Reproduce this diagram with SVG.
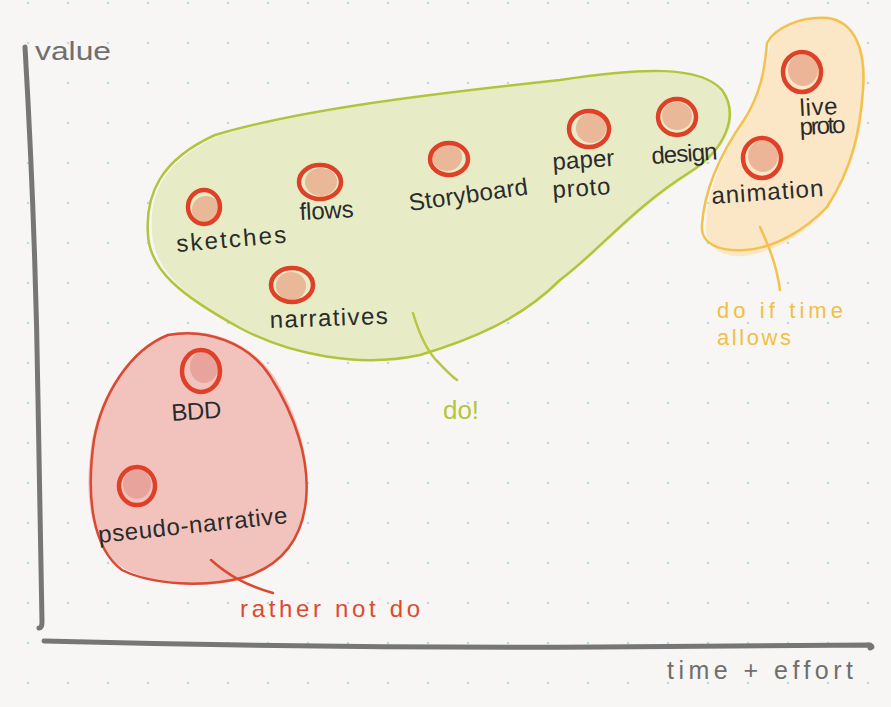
<svg xmlns="http://www.w3.org/2000/svg" width="891" height="707" viewBox="0 0 891 707">
<defs>
<pattern id="dots" x="28" y="3" width="40" height="40" patternUnits="userSpaceOnUse">
<circle cx="0" cy="0" r="1.3" fill="#b9dbe5"/><circle cx="40" cy="0" r="1.3" fill="#b9dbe5"/><circle cx="0" cy="40" r="1.3" fill="#b9dbe5"/><circle cx="40" cy="40" r="1.3" fill="#b9dbe5"/>
</pattern>
<style>
.lbl{font-family:"Liberation Sans","DejaVu Sans",sans-serif;fill:#2b2b2b;font-size:24px}
.ring{fill:none;stroke:#df4128;stroke-width:4.5}
.fg{fill:#e8b898}
.fo{fill:#edb598}
.fr{fill:#e8a49c}
.axis{fill:none;stroke:#767676;stroke-width:5;stroke-linecap:round}
.axlbl{font-family:"Liberation Sans","DejaVu Sans",sans-serif;fill:#6f6f6f;font-size:25px}
</style>
</defs>
<rect width="891" height="707" fill="#f7f6f4"/>
<rect width="891" height="707" fill="url(#dots)"/>

<g id="group-do">
<path d="M 152,232 C 149,193 165,160 218,136 C 300,112 420,96 560,80 C 640,70 700,66 724,92 C 742,118 726,150 692,173 C 632,212 602,250 562,280 C 522,318 472,340 422,354 C 362,367 292,356 242,328 C 184,296 154,270 152,232 Z" fill="#e7ecc6"/>
<path d="M 148,235 C 145,195 160,160 215,135 C 300,110 420,95 560,80 C 640,68 700,65 722,90 C 740,115 725,150 690,172 C 630,210 600,250 560,280 C 520,320 470,340 420,355 C 360,368 290,355 240,328 C 180,295 150,270 148,235 Z" fill="none" stroke="#b3c43c" stroke-width="2.5"/>
</g>
<g id="group-time">
<path d="M 770,42 C 778,28 800,16 830,19 C 858,25 868,50 864,90 C 862,130 856,165 828,208 C 808,232 775,252 745,256 C 718,258 705,245 706,225 C 708,195 718,160 744,122 C 760,95 766,68 770,42 Z" fill="#fbe6c6"/>
<path d="M 767,43 C 775,28 800,16 828,18 C 855,22 866,50 863,90 C 860,130 853,167 827,207 C 805,230 775,248 745,250 C 718,252 700,243 702,225 C 704,195 716,160 744,120 C 760,95 765,70 767,43 Z" fill="none" stroke="#f2c14e" stroke-width="2.5"/>
</g>
<g id="group-not">
<path d="M 168,334 C 205,326 250,340 275,378 C 298,415 312,460 306,505 C 300,545 280,568 240,580 C 200,590 150,585 118,565 C 88,540 84,490 92,440 C 100,395 128,350 168,334 Z" fill="#f2c3bd"/>
<path d="M 168,335 C 205,328 248,342 270,376 C 295,415 310,460 306,500 C 302,540 282,565 245,577 C 205,588 152,585 122,570 C 92,548 86,495 94,440 C 102,395 130,350 168,335 Z" fill="none" stroke="#d94a32" stroke-width="2.5"/>
</g>

<g id="axes">
<path class="axis" d="M 25,47 C 31,150 36,260 38,400 L 42,622 Q 42,628 39,628"/>
<path class="axis" d="M 44,641 C 200,645 400,648 600,647 L 870,645 Q 874,647 870,648"/>
<text class="axlbl" x="35" y="60" textLength="76" lengthAdjust="spacingAndGlyphs">value</text>
<text class="axlbl" x="667" y="679" textLength="186" lengthAdjust="spacing">time + effort</text>
</g>

<g id="connectors" fill="none" stroke-linecap="round">
<path d="M 413,313 C 418,330 425,348 436,360 C 444,368 450,375 457,380" stroke="#b8c640" stroke-width="2.5"/>
<path d="M 760,227 C 768,245 776,262 780,290" stroke="#f2c14e" stroke-width="2.5"/>
<path d="M 211,560 C 228,575 245,585 273,593" stroke="#d94a32" stroke-width="2.5"/>
</g>

<g id="note-do"><text x="443" y="419" font-family="Liberation Sans, sans-serif" font-size="26" fill="#b6c53a" textLength="36" lengthAdjust="spacing">do!</text></g>
<g id="note-time">
<text x="717" y="318" font-family="Liberation Sans, sans-serif" font-size="22" fill="#f2bf45" textLength="126" lengthAdjust="spacing">do if time</text>
<text x="717" y="345" font-family="Liberation Sans, sans-serif" font-size="22" fill="#f2bf45" textLength="74" lengthAdjust="spacing">allows</text>
</g>
<g id="note-not"><text x="240" y="617" font-family="Liberation Sans, sans-serif" font-size="24" fill="#dc4a30" textLength="180" lengthAdjust="spacing">rather not do</text></g>

<g id="node-sketches">
<ellipse class="fg" cx="206" cy="210" rx="14" ry="14"/>
<ellipse class="ring" cx="204" cy="207" rx="16" ry="17"/>
<text class="lbl" x="177" y="252" transform="rotate(-5 177 252)" textLength="110" lengthAdjust="spacing">sketches</text>
</g>
<g id="node-flows">
<ellipse class="fg" cx="321" cy="182" rx="16" ry="14"/>
<ellipse class="ring" cx="320" cy="182" rx="21" ry="17"/>
<text class="lbl" x="300" y="220" transform="rotate(-3 300 220)" textLength="54" lengthAdjust="spacing">flows</text>
</g>
<g id="node-storyboard">
<ellipse class="fg" cx="447" cy="157" rx="15" ry="14"/>
<ellipse class="ring" cx="449" cy="159" rx="19" ry="16"/>
<text class="lbl" x="410" y="211" transform="rotate(-8 410 211)" textLength="120" lengthAdjust="spacing">Storyboard</text>
</g>
<g id="node-paper-proto">
<ellipse class="fg" cx="591" cy="128" rx="15" ry="15"/>
<ellipse class="ring" cx="589" cy="129" rx="20" ry="18"/>
<text class="lbl" x="553" y="170" transform="rotate(-4 553 170)" textLength="62" lengthAdjust="spacing">paper</text>
<text class="lbl" x="553" y="198" transform="rotate(-4 553 198)" textLength="58" lengthAdjust="spacing">proto</text>
</g>
<g id="node-design">
<ellipse class="fg" cx="677" cy="116" rx="15" ry="14"/>
<ellipse class="ring" cx="677" cy="117" rx="19" ry="18"/>
<text class="lbl" x="652" y="164" transform="rotate(-4 652 164)" textLength="66" lengthAdjust="spacing">design</text>
</g>
<g id="node-narratives">
<ellipse class="fg" cx="291" cy="286" rx="15" ry="14"/>
<ellipse class="ring" cx="292" cy="285" rx="21" ry="17"/>
<text class="lbl" x="270" y="328" transform="rotate(-2 270 328)" textLength="118" lengthAdjust="spacing">narratives</text>
</g>
<g id="node-live-proto">
<ellipse class="fo" cx="803" cy="70" rx="15" ry="16"/>
<ellipse class="ring" cx="802" cy="72" rx="19" ry="20"/>
<text class="lbl" x="800" y="116" font-size="20" transform="rotate(-3 800 116)" textLength="38" lengthAdjust="spacing">live</text>
<text class="lbl" x="800" y="135" font-size="20" transform="rotate(-3 800 135)" textLength="46" lengthAdjust="spacing">proto</text>
</g>
<g id="node-animation">
<ellipse class="fo" cx="763" cy="156" rx="15" ry="16"/>
<ellipse class="ring" cx="762" cy="158" rx="19" ry="20"/>
<text class="lbl" x="712" y="204" transform="rotate(-4 712 204)" textLength="112" lengthAdjust="spacing">animation</text>
</g>
<g id="node-bdd">
<ellipse class="fr" cx="204" cy="367" rx="14" ry="16"/>
<ellipse class="ring" cx="201" cy="371" rx="19" ry="21"/>
<text class="lbl" x="172" y="421" transform="rotate(-4 172 421)" textLength="50" lengthAdjust="spacing">BDD</text>
</g>
<g id="node-pseudo-narrative">
<ellipse class="fr" cx="137" cy="484" rx="14" ry="15"/>
<ellipse class="ring" cx="137" cy="486" rx="18" ry="19"/>
<text class="lbl" x="99" y="543" transform="rotate(-6 99 543)" textLength="190" lengthAdjust="spacing">pseudo-narrative</text>
</g>
</svg>
